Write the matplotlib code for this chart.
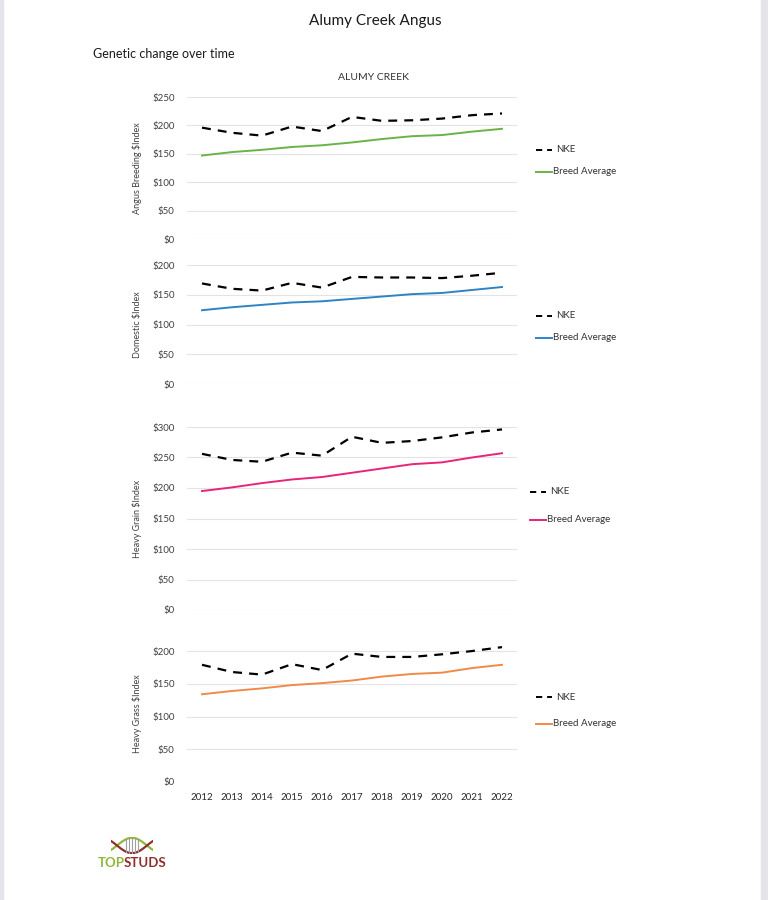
import numpy as np
import matplotlib
matplotlib.use('Agg')
import matplotlib.pyplot as plt
from matplotlib.patches import Rectangle

plt.rcParams['font.family'] = ['Lato', 'DejaVu Sans']

years = ['2012', '2013', '2014', '2015', '2016', '2017', '2018', '2019', '2020', '2021', '2022']

# NKE (herd) vs breed average per index
angus_nke = [196, 187, 182, 198, 190, 215, 208, 209, 212, 218, 221]
angus_breed = [147, 153, 157, 162, 165, 170, 176, 181, 183, 189, 194]
domestic_nke = [169, 160, 157, 170, 162, 180, 179, 179, 178, 182, 187]
domestic_breed = [124, 129, 133, 137, 139, 143, 147, 151, 153, 158, 163]
grain_nke = [256, 246, 243, 258, 253, 284, 274, 277, 283, 291, 296]
grain_breed = [195, 201, 208, 214, 218, 225, 232, 239, 242, 250, 257]
grass_nke = [179, 168, 164, 180, 171, 196, 191, 191, 195, 200, 206]
grass_breed = [134, 139, 143, 148, 151, 155, 161, 165, 167, 174, 179]

panels = [
    # label, nke, breed, colour, ymax, ytop, axes rect, legend y (fig px)
    ('Angus Breeding $Index', angus_nke, angus_breed, '#6ab446', 250, 250,
     [187/768, 1-239/900, 330/768, 142/900], (150, 172)),
    ('Domestic $Index', domestic_nke, domestic_breed, '#2e83c6', 200, 200,
     [187/768, 1-384/900, 330/768, 119/900], (316, 338)),
    ('Heavy Grain $Index', grain_nke, grain_breed, '#e8247a', 300, 300,
     [187/768, 1-610/900, 330/768, 183/900], (492, 520)),
    ('Heavy Grass $Index', grass_nke, grass_breed, '#ef8a47', 200, 210,
     [187/768, 1-782/900, 330/768, 137.5/900], (697, 724)),
]

fig = plt.figure(figsize=(7.68, 9.0), dpi=100)
fig.patch.set_facecolor('white')

# page edges
fig.patches.append(Rectangle((0, 0), 3/768, 1, transform=fig.transFigure,
                             color='#e4e4ea', zorder=0))
fig.patches.append(Rectangle((761/768, 0), 7/768, 1, transform=fig.transFigure,
                             color='#e4e4ea', zorder=0))

fig.text(375/768, 1-21/900, 'Alumy Creek Angus', ha='center', va='center',
         fontsize=11, color='#1a1a1a')
fig.text(93/768, 1-54/900, 'Genetic change over time', ha='left', va='center',
         fontsize=9, color='#1a1a1a')
fig.text(374/768, 1-77/900, 'ALUMY CREEK', ha='center', va='center',
         fontsize=7.5, color='#333333')

x = np.arange(len(years))
for i, (label, nke, breed, col, ymax, ytop, rect, leg_y) in enumerate(panels):
    ax = fig.add_axes(rect)
    ax.plot(x, nke, color='black', lw=1.6, linestyle=(0, (4, 3.2)), label='NKE')
    ax.plot(x, breed, color=col, lw=1.4, label='Breed Average')
    ax.set_xlim(-0.5, len(years) - 0.5)
    ax.set_ylim(0, ytop)
    ax.set_yticks(np.arange(0, ymax + 1, 50))
    ax.set_yticklabels(['$%d' % v for v in np.arange(0, ymax + 1, 50)])
    ax.grid(axis='y', color='#e3e3e3', lw=0.8)
    ax.set_axisbelow(True)
    for s in ax.spines.values():
        s.set_visible(False)
    ax.tick_params(axis='both', length=0, labelsize=7, labelcolor='#404040', pad=9)
    ax.set_ylabel(label, fontsize=6.5, color='#404040', labelpad=7)
    if i == len(panels) - 1:
        ax.set_xticks(x)
        ax.set_xticklabels(years, fontsize=7, color='#262626')
        ax.tick_params(axis='x', pad=8)
    else:
        ax.set_xticks([])
    # legend
    lx = 536/768 if i != 2 else 530/768
    fig.lines.append(plt.Line2D([lx, lx + 16/768], [1-leg_y[0]/900]*2,
                                transform=fig.transFigure, color='black',
                                lw=1.4, linestyle=(0, (3.2, 2.5))))
    fig.text(lx + 20/768, 1-leg_y[0]/900, 'NKE', fontsize=7, va='center',
             color='#333333')
    fig.lines.append(plt.Line2D([lx, lx + 16/768], [1-leg_y[1]/900]*2,
                                transform=fig.transFigure, color=col, lw=1.4))
    fig.text(lx + 17/768, 1-leg_y[1]/900, 'Breed Average', fontsize=7,
             va='center', color='#333333')

# TOPSTUDS logo
lax = fig.add_axes([111/768, 1-854/900, 42/768, 17/900])
t = np.linspace(0, 1, 100)
wave = 0.45*np.cos(np.pi*(t - 0.5)*1.4)
lax.plot(t, 0.5 + wave, color='#8fb83a', lw=1.6)
lax.plot(t, 0.5 - wave, color='#8e2f2f', lw=1.6)
for xv in np.linspace(0.36, 0.64, 5):
    w = 0.45*np.cos(np.pi*(xv - 0.5)*1.4)
    lax.plot([xv, xv], [0.5 - w, 0.5 + w], color='#a0a0a0', lw=0.8)
lax.set_xlim(0, 1)
lax.set_ylim(0, 1)
lax.axis('off')
fig.text(98/768, 1-863/900, 'TOP', fontsize=9.5, fontweight='bold',
         color='#8fb83a', va='center', ha='left')
fig.text(124/768, 1-863/900, 'STUDS', fontsize=9.5, fontweight='bold',
         color='#8e2f2f', va='center', ha='left')

fig.savefig('out.png', dpi=100, facecolor='white')
